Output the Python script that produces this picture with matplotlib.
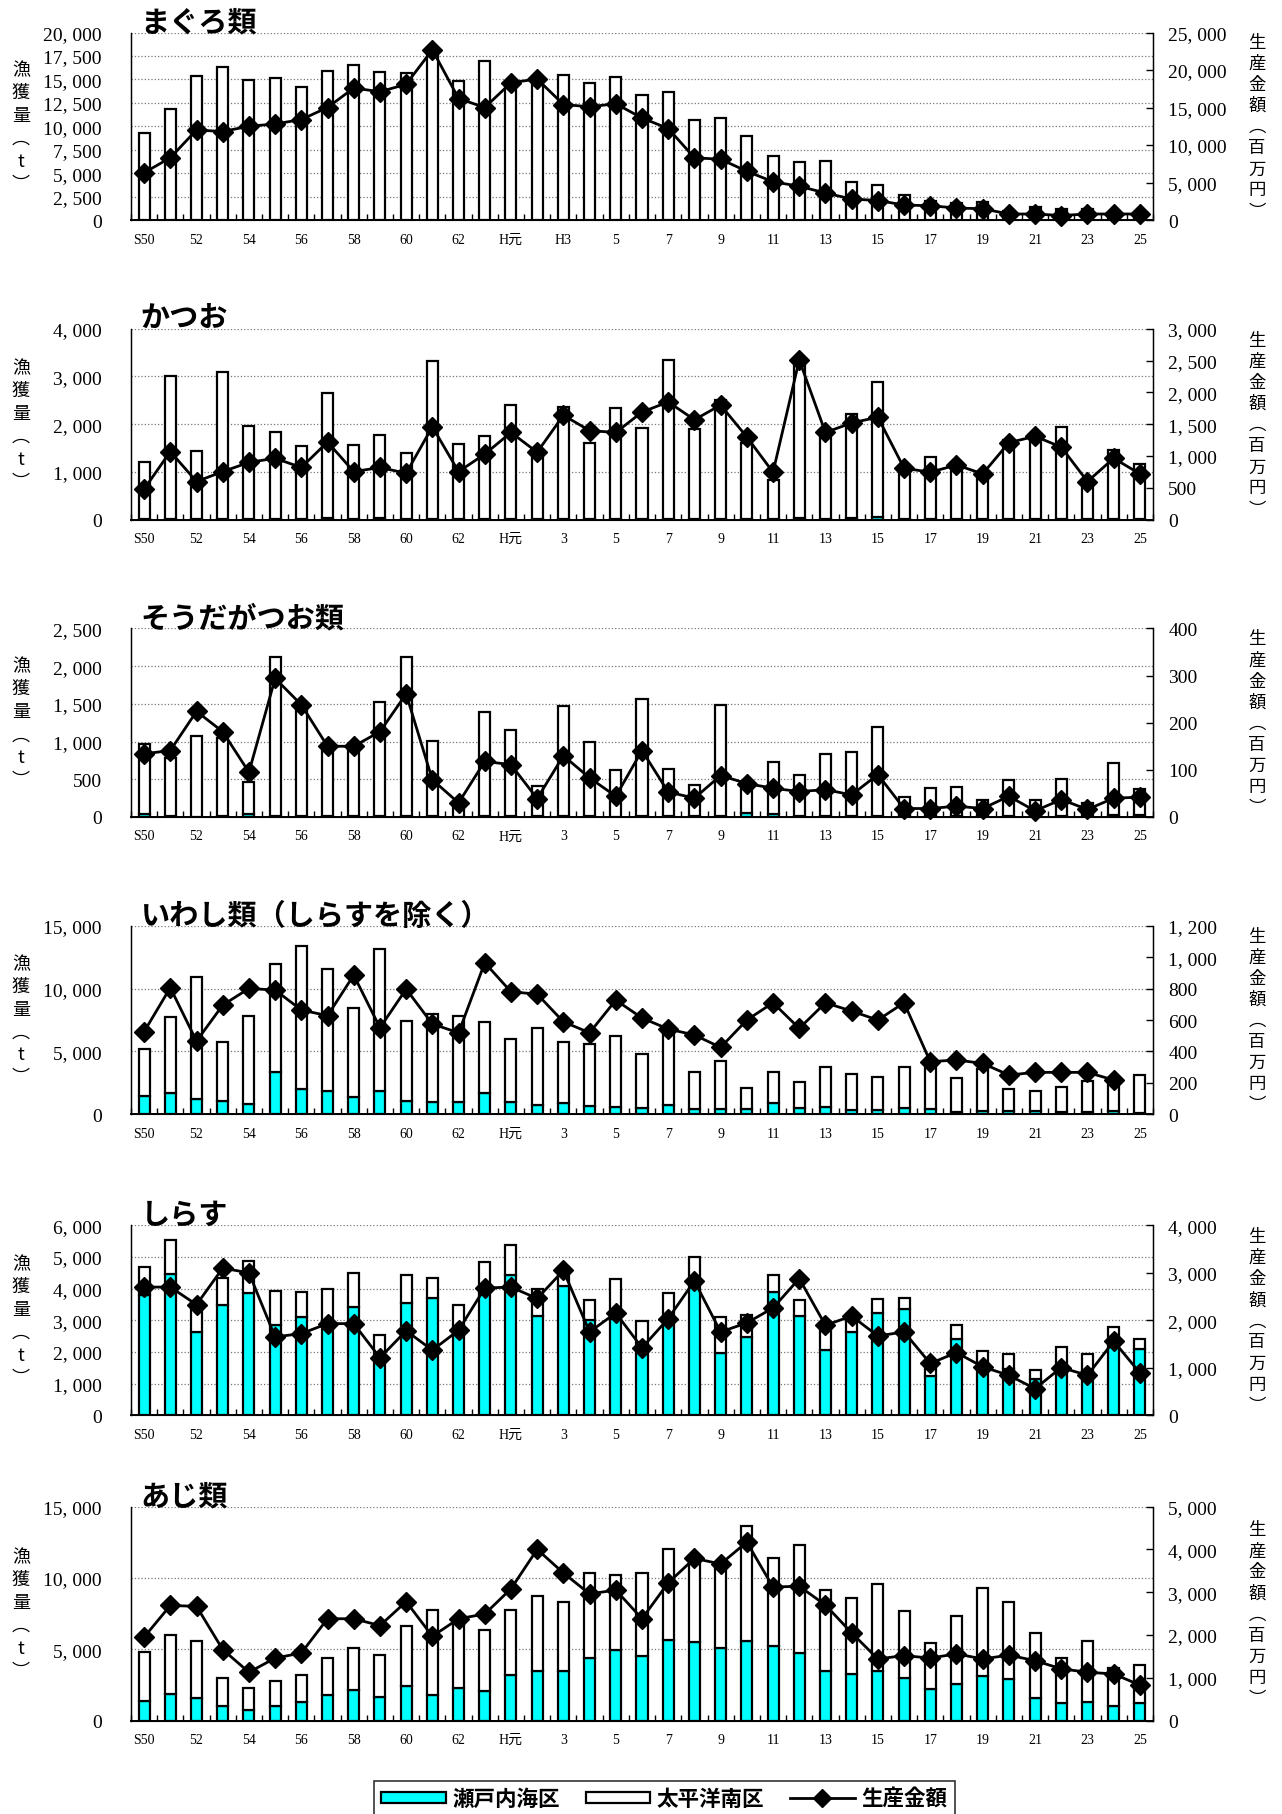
import matplotlib
matplotlib.use('Agg')
import matplotlib.pyplot as plt
import numpy as np
from matplotlib.patches import Patch
from matplotlib.lines import Line2D

plt.rcParams['font.family'] = ['Liberation Serif', 'Noto Sans CJK JP']

# 昭和50年 ～ 平成25年
years = ['S50', 'S51', 'S52', 'S53', 'S54', 'S55', 'S56', 'S57', 'S58', 'S59',
         'S60', 'S61', 'S62', 'S63', 'H1', 'H2', 'H3', 'H4', 'H5', 'H6',
         'H7', 'H8', 'H9', 'H10', 'H11', 'H12', 'H13', 'H14', 'H15', 'H16',
         'H17', 'H18', 'H19', 'H20', 'H21', 'H22', 'H23', 'H24', 'H25']
xlabels_a = ['S50', '52', '54', '56', '58', '60', '62', 'H元', 'H3', '5', '7',
             '9', '11', '13', '15', '17', '19', '21', '23', '25']
xlabels_b = ['S50', '52', '54', '56', '58', '60', '62', 'H元', '3', '5', '7',
             '9', '11', '13', '15', '17', '19', '21', '23', '25']

# まぐろ類 (t, 百万円)
maguro_seto = [30] * 39
maguro_pacific = [9200, 11800, 15300, 16300, 14950, 15100, 14200, 15850, 16500, 15800,
                  15600, 18200, 14750, 16900, 14800, 15000, 15450, 14550, 15250, 13300,
                  13600, 10600, 10900, 8900, 6750, 6200, 6300, 4050, 3700, 2650,
                  2050, 1800, 1850, 900, 1350, 1100, 1150, 700, 800]
maguro_value = [6300, 8300, 12000, 11800, 12500, 12800, 13400, 15000, 17600, 17100,
                18100, 22700, 16200, 15000, 18300, 18800, 15400, 15100, 15500, 13600,
                12200, 8300, 8100, 6500, 5100, 4500, 3600, 2800, 2600, 2000,
                1900, 1600, 1500, 800, 800, 600, 800, 800, 800]

# かつお
katsuo_seto = [20, 20, 20, 20, 20, 20, 20, 30, 20, 30,
               20, 20, 20, 20, 20, 20, 20, 20, 20, 20,
               20, 20, 20, 20, 20, 40, 20, 30, 50, 20,
               20, 20, 20, 20, 20, 20, 20, 20, 20]
katsuo_pacific = [1180, 2980, 1410, 3070, 1940, 1810, 1530, 2630, 1550, 1750,
                  1380, 3300, 1560, 1730, 2390, 1360, 2350, 1590, 2320, 1900,
                  3330, 1880, 2480, 1580, 810, 3310, 1830, 2190, 2830, 980,
                  1290, 1150, 950, 1640, 1780, 1930, 720, 1450, 1150]
katsuo_value = [480, 1070, 600, 755, 900, 965, 820, 1220, 755, 820,
                730, 1460, 755, 1030, 1370, 1060, 1640, 1400, 1370, 1690,
                1850, 1570, 1800, 1300, 745, 2510, 1370, 1520, 1610, 810,
                745, 860, 720, 1210, 1310, 1140, 600, 965, 720]

# そうだがつお類
souda_seto = [40, 15, 5, 10, 40, 10, 10, 10, 10, 10,
              10, 10, 5, 10, 10, 10, 15, 10, 5, 10,
              10, 10, 10, 50, 40, 10, 10, 10, 10, 20,
              10, 10, 10, 10, 5, 10, 5, 20, 20]
souda_pacific = [930, 770, 1075, 1040, 430, 2115, 1440, 930, 920, 1510,
                 2115, 1000, 145, 1380, 1140, 395, 1455, 990, 615, 1550,
                 620, 420, 1470, 350, 690, 550, 830, 850, 1180, 250,
                 380, 390, 210, 480, 215, 500, 175, 690, 350]
souda_value = [134, 141, 224, 181, 95, 294, 238, 150, 150, 181,
               261, 79, 30, 118, 111, 39, 130, 83, 44, 141,
               53, 40, 88, 71, 61, 54, 58, 47, 90, 18,
               18, 23, 18, 44, 13, 37, 16, 40, 42]

# いわし類（しらすを除く）
iwashi_seto = [1480, 1720, 1190, 1060, 820, 3390, 2010, 1860, 1400, 1860,
               1060, 1010, 950, 1670, 1010, 740, 870, 690, 610, 480,
               740, 400, 400, 400, 930, 480, 560, 340, 340, 480,
               400, 160, 290, 290, 290, 160, 210, 290, 130]
iwashi_pacific = [3710, 6050, 9760, 4720, 7000, 8560, 11400, 9670, 7030, 11290,
                  6360, 6970, 6900, 5640, 4950, 6100, 4850, 4900, 5620, 4320,
                  5960, 2940, 3870, 1720, 2410, 2060, 3230, 2870, 2600, 3310,
                  3400, 2760, 3310, 1720, 1570, 2040, 2470, 2210, 3000]
iwashi_value = [526, 806, 466, 695, 801, 791, 664, 628, 886, 551,
                797, 575, 519, 965, 780, 765, 589, 519, 727, 613,
                543, 505, 426, 600, 710, 547, 710, 657, 600, 710,
                335, 346, 324, 250, 267, 267, 267, 218, np.nan]

# しらす
shirasu_seto = [3790, 4470, 2630, 3490, 3870, 2860, 3100, 2850, 3420, 1800,
                3560, 3710, 2650, 3900, 4440, 3140, 4080, 3000, 3050, 2050,
                2950, 4160, 1980, 2470, 3890, 3140, 2050, 2630, 3240, 3350,
                1240, 2400, 1530, 1450, 1160, 1600, 1400, 2260, 2080]
shirasu_pacific = [890, 1060, 920, 850, 1020, 1060, 790, 1150, 1090, 730,
                   860, 630, 840, 940, 950, 840, 620, 630, 1240, 920,
                   910, 840, 1120, 710, 530, 490, 840, 520, 420, 370,
                   360, 460, 490, 500, 260, 560, 530, 530, 340]
shirasu_value = [2700, 2700, 2330, 3100, 3000, 1650, 1720, 1930, 1930, 1210,
                 1780, 1370, 1790, 2680, 2700, 2460, 3050, 1755, 2155, 1420,
                 2035, 2830, 1755, 1945, 2260, 2880, 1895, 2090, 1670, 1755,
                 1090, 1320, 1020, 840, 560, 1005, 840, 1560, 890]

# あじ類
aji_seto = [1400, 1870, 1570, 1050, 770, 1050, 1290, 1800, 2150, 1640,
            2450, 1800, 2270, 2100, 3200, 3500, 3460, 4370, 4980, 4540,
            5650, 5490, 5090, 5610, 5210, 4720, 3500, 3270, 3500, 2970,
            2220, 2570, 3150, 2920, 1570, 1240, 1330, 1050, 1210]
aji_pacific = [3440, 4160, 3990, 1920, 1500, 1710, 1930, 2590, 2940, 2990,
               4210, 5960, 4930, 4260, 4580, 5260, 4880, 5980, 5250, 5790,
               6380, 6010, 5890, 8060, 6170, 7590, 5680, 5330, 6080, 4740,
               3220, 4740, 6130, 5420, 4550, 3130, 4230, 2620, 2690]
aji_value = [1950, 2690, 2670, 1660, 1130, 1460, 1580, 2380, 2380, 2220,
             2780, 1970, 2380, 2490, 3080, 4000, 3450, 2960, 3050, 2380,
             3220, 3790, 3660, 4170, 3120, 3140, 2700, 2050, 1440, 1520,
             1460, 1560, 1440, 1530, 1400, 1210, 1130, 1090, 830]

W, H = 1282, 1815
SETO_COLOR = '#00FFFF'
JP = 'Noto Sans CJK JP'


def fmt(v):
  return f'{int(v):,}'.replace(',', ', ')


def draw_panel(fig, top, bottom, title, seto, pacific, value,
               ymax, ystep, y2max, y2step, xlabels):
  left, right = 131, 1153
  ax = fig.add_axes([left / W, 1 - bottom / H, (right - left) / W, (bottom - top) / H])
  x = np.arange(len(years))

  ax.bar(x, seto, width=0.42, color=SETO_COLOR, edgecolor='black', linewidth=1.6, zorder=2)
  ax.bar(x, pacific, width=0.42, bottom=seto, color='white', edgecolor='black',
         linewidth=1.6, zorder=2)

  ax.set_xlim(-0.5, len(years) - 0.5)
  ax.set_ylim(0, ymax)
  yt = np.arange(0, ymax + 1, ystep)
  ax.set_yticks(yt)
  ax.set_yticklabels([fmt(v) for v in yt], fontsize=14)
  ax.tick_params(axis='y', length=0, pad=21)
  ax.set_axisbelow(True)
  ax.yaxis.grid(True, linestyle=':', color='#777777', linewidth=0.9)

  ax.set_xticks(x[::2])
  ax.set_xticklabels(xlabels, fontsize=10)
  ax.set_xticks(np.arange(-0.5, len(years), 1.0), minor=True)
  ax.tick_params(axis='x', which='major', length=0, pad=9)
  ax.tick_params(axis='x', which='minor', direction='in', length=4, width=1)
  ax.spines['top'].set_visible(False)
  ax.spines['bottom'].set_linewidth(1.4)
  ax.spines['left'].set_linewidth(1.0)

  ax2 = ax.twinx()
  ax2.plot(x, value, color='black', linewidth=2.0, marker='D', markersize=10,
           markerfacecolor='black', markeredgecolor='black', clip_on=False, zorder=5)
  ax2.set_ylim(0, y2max)
  yt2 = np.arange(0, y2max + 1, y2step)
  ax2.set_yticks(yt2)
  ax2.set_yticklabels([fmt(v) for v in yt2], fontsize=14)
  ax2.tick_params(axis='y', direction='in', length=5, width=1, pad=11)
  ax2.spines['top'].set_visible(False)
  ax2.spines['right'].set_linewidth(1.0)

  ax.annotate(title, xy=(0, 1), xycoords='axes fraction', xytext=(7, 8),
              textcoords='offset points', va='center', ha='left',
              fontsize=21, fontweight='bold', family=JP)

  ymid = 1 - (top + bottom) / 2 / H
  fig.text(21 / W, ymid, '漁\n獲\n量\n︵\nt\n︶', ha='center', va='center',
           fontsize=13, family=JP, linespacing=1.35)
  fig.text(1257 / W, ymid, '生\n産\n金\n額\n︵\n百\n万\n円\n︶', ha='center', va='center',
           fontsize=12.5, family=JP, linespacing=1.22)
  return ax


def main():
  fig = plt.figure(figsize=(W / 100, H / 100), dpi=100)

  draw_panel(fig, 33.5, 221, 'まぐろ類', maguro_seto, maguro_pacific, maguro_value,
             20000, 2500, 25000, 5000, xlabels_a)
  draw_panel(fig, 329.7, 520.7, 'かつお', katsuo_seto, katsuo_pacific, katsuo_value,
             4000, 1000, 3000, 500, xlabels_b)
  draw_panel(fig, 629.4, 818, 'そうだがつお類', souda_seto, souda_pacific, souda_value,
             2500, 500, 400, 100, xlabels_b)
  draw_panel(fig, 926.8, 1115.3, 'いわし類（しらすを除く）', iwashi_seto, iwashi_pacific,
             iwashi_value, 15000, 5000, 1200, 200, xlabels_b)
  draw_panel(fig, 1226.4, 1416.2, 'しらす', shirasu_seto, shirasu_pacific, shirasu_value,
             6000, 1000, 4000, 1000, xlabels_b)
  draw_panel(fig, 1507.6, 1721.6, 'あじ類', aji_seto, aji_pacific, aji_value,
             15000, 5000, 5000, 1000, xlabels_b)

  handles = [Patch(facecolor=SETO_COLOR, edgecolor='black', linewidth=1.6),
             Patch(facecolor='white', edgecolor='black', linewidth=1.6),
             Line2D([], [], color='black', linewidth=2, marker='D', markersize=9)]
  leg = fig.legend(handles, ['瀬戸内海区', '太平洋南区', '生産金額'], ncol=3,
                   loc='center', bbox_to_anchor=(0.518, 0.0085), frameon=True,
                   fancybox=False, edgecolor='black', handlelength=3.0,
                   handleheight=0.45, handletextpad=0.3, columnspacing=1.2,
                   borderpad=0.35, prop=dict(family=JP, weight='bold', size=15.5))
  leg.get_frame().set_linewidth(1.2)

  fig.savefig('out.png', dpi=100)
  plt.close(fig)


if __name__ == '__main__':
  main()
